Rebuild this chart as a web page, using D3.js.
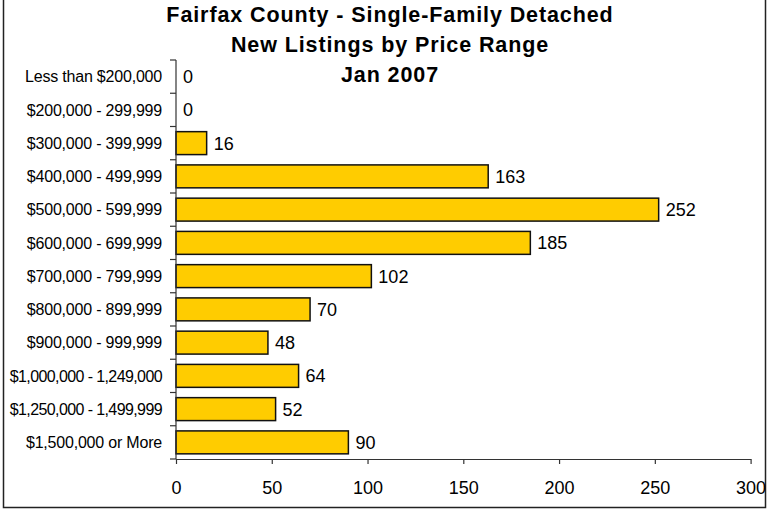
<!DOCTYPE html>
<html>
<head>
<meta charset="utf-8">
<script src="https://cdn.jsdelivr.net/npm/d3@7"></script>
<style>
  html, body { margin: 0; padding: 0; background: #fff; }
  svg { display: block; font-family: Arial, "Liberation Sans", sans-serif; }
</style>
</head>
<body>
<svg id="chart" width="768" height="512"></svg>
<script>
// New listings by price range, Fairfax County single-family detached, Jan 2007
const categories = [
  "Less than $200,000",
  "$200,000 - 299,999",
  "$300,000 - 399,999",
  "$400,000 - 499,999",
  "$500,000 - 599,999",
  "$600,000 - 699,999",
  "$700,000 - 799,999",
  "$800,000 - 899,999",
  "$900,000 - 999,999",
  "$1,000,000 - 1,249,000",
  "$1,250,000 - 1,499,999",
  "$1,500,000 or More"
];
const listings = [0, 0, 16, 163, 252, 185, 102, 70, 48, 64, 52, 90];
const xTicks = [0, 50, 100, 150, 200, 250, 300];
const titleLines = [
  "Fairfax County - Single-Family Detached",
  "New Listings by Price Range",
  "Jan 2007"
];

const svg = d3.select("#chart");
const plot = { left: 176, right: 750.6, top: 60, bottom: 459 };

// outer frame (open at the top edge)
svg.append("path")
  .attr("d", `M3.5,0 V507.5 H765.5 V0`)
  .attr("fill", "none")
  .attr("stroke", "#222")
  .attr("stroke-width", 1.5);

const x = d3.scaleLinear().domain([0, 300]).range([plot.left, plot.right]);
const y = d3.scaleBand().domain(categories).range([plot.top, plot.bottom])
  .paddingInner(0.31).paddingOuter(0.155);

// title
svg.append("g").selectAll("text")
  .data(titleLines)
  .join("text")
  .attr("x", 390)
  .attr("y", (d, i) => 22 + i * 30)
  .attr("text-anchor", "middle")
  .attr("font-size", 21.5)
  .attr("letter-spacing", 0.9)
  .attr("font-weight", "bold")
  .attr("fill", "#000")
  .text(d => d);

// bars
const data = categories.map((c, i) => ({ cat: c, v: listings[i] }));
svg.append("g").selectAll("rect")
  .data(data.filter(d => d.v > 0))
  .join("rect")
  .attr("x", x(0))
  .attr("y", d => y(d.cat))
  .attr("width", d => x(d.v) - x(0))
  .attr("height", y.bandwidth())
  .attr("fill", "#FFCC00")
  .attr("stroke", "#111")
  .attr("stroke-width", 1.5);

// value labels
svg.append("g").selectAll("text")
  .data(data)
  .join("text")
  .attr("x", d => x(d.v) + 7)
  .attr("y", d => y(d.cat) + y.bandwidth() / 2)
  .attr("dy", "0.36em")
  .attr("font-size", 18)
  .attr("fill", "#000")
  .text(d => d.v);

// category axis: vertical line with ticks at band boundaries
const gy = svg.append("g");
gy.append("line")
  .attr("x1", plot.left).attr("x2", plot.left)
  .attr("y1", plot.top).attr("y2", plot.bottom)
  .attr("stroke", "#333").attr("stroke-width", 1.2);
const bounds = d3.range(categories.length + 1).map(i => plot.top + i * y.step());
gy.selectAll("line.tick")
  .data(bounds)
  .join("line")
  .attr("class", "tick")
  .attr("x1", plot.left - 6).attr("x2", plot.left)
  .attr("y1", d => d).attr("y2", d => d)
  .attr("stroke", "#333").attr("stroke-width", 1.2);
gy.selectAll("text")
  .data(categories)
  .join("text")
  .attr("x", 162)
  .attr("y", d => y(d) + y.bandwidth() / 2)
  .attr("dy", "0.36em")
  .attr("text-anchor", "end")
  .attr("font-size", 16)
  .attr("letter-spacing", d => d.length > 20 ? -0.6 : -0.2)
  .attr("fill", "#000")
  .text(d => d);

// value axis
const gx = svg.append("g")
  .attr("transform", `translate(0,${plot.bottom})`)
  .call(d3.axisBottom(x).tickValues(xTicks).tickSize(5).tickPadding(17).tickSizeOuter(0));
gx.select(".domain").attr("stroke", "#333").attr("stroke-width", 1.2);
gx.selectAll(".tick line").attr("stroke", "#333").attr("stroke-width", 1.2);
gx.selectAll(".tick text")
  .attr("font-size", 18)
  .attr("font-family", "Arial, 'Liberation Sans', sans-serif")
  .attr("fill", "#000");
</script>
</body>
</html>
